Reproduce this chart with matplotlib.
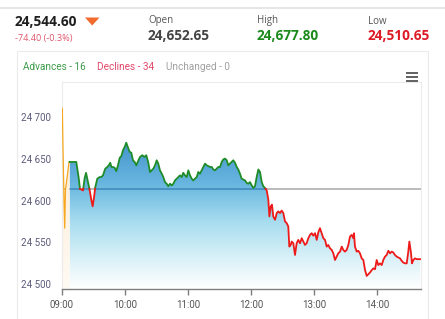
import numpy as np
import matplotlib
matplotlib.use("Agg")
import matplotlib.pyplot as plt
from matplotlib.colors import LinearSegmentedColormap
from matplotlib.patches import Polygon, Rectangle
from matplotlib.lines import Line2D

# ── Data ──────────────────────────────────────────────────────────────────────
last_price = "24,544.60"
change_txt = "-74.40 (-0.3%)"
open_txt = "24,652.65"
high_txt = "24,677.80"
low_txt = "24,510.65"
advances, declines, unchanged = 16, 34, 0
prev_close = 24614

# pre-open session, minutes after 09:00
pre_minutes = [0.3, 1.0, 1.9, 2.6, 3.3, 4.8, 6.7, 7.3]
pre_prices = [24710, 24660, 24601, 24567, 24613, 24627, 24646, 24646]

# regular session, minutes after 09:00
minutes = [
    7.3, 13.6, 15.9, 17.1, 20.0, 21.6, 22.9, 24.8, 26.4, 27.9, 29.2, 30.5,
    31.7, 33.6, 35.9, 37.4, 39.0, 41.2, 43.1, 44.5, 46.0, 47.0, 48.6, 50.2,
    51.7, 53.3, 55.0, 56.5, 58.1, 59.7, 61.2, 62.9, 64.5, 66.0, 67.6, 69.2,
    70.8, 72.1, 74.3, 76.5, 78.4, 80.3, 82.2, 83.8, 85.4, 87.0, 88.6, 90.2,
    91.7, 93.3, 95.0, 96.5, 98.1, 99.7, 101.2, 102.9, 104.5, 106.0, 107.6,
    109.2, 110.8, 112.4, 114.0, 115.5, 117.1, 118.8, 120.3, 121.9, 123.5,
    125.0, 126.7, 128.3, 129.8, 131.4, 133.0, 134.6, 136.2, 137.8, 139.3,
    141.0, 142.6, 144.1, 145.7, 147.3, 148.9, 150.5, 152.1, 153.6, 155.2,
    156.9, 158.4, 160.0, 161.6, 163.1, 164.8, 166.4, 167.9, 169.5, 171.1,
    172.7, 174.3, 175.9, 177.4, 179.0, 180.7, 182.2, 183.8, 185.4, 187.0,
    188.6, 190.2, 191.7, 193.3, 195.0, 196.5, 197.5, 198.8, 200.0, 201.2,
    202.9, 204.5, 206.0, 207.6, 209.2, 210.8, 212.4, 214.0, 215.5, 216.5,
    217.8, 218.8, 220.3, 221.9, 223.5, 225.0, 226.7, 228.3, 229.8, 231.4,
    233.0, 234.6, 236.2, 237.8, 239.3, 241.0, 242.6, 244.1, 245.7, 247.3,
    248.9, 250.5, 252.1, 253.6, 255.2, 256.9, 258.4, 260.0, 261.6, 263.1,
    264.8, 266.4, 267.9, 269.5, 271.1, 272.7, 274.3, 275.9, 277.4, 278.1,
    279.0, 280.7, 282.2, 283.8, 285.4, 287.0, 288.6, 290.2, 291.7, 293.3,
    295.0, 296.5, 298.1, 299.7, 301.2, 302.9, 304.5, 306.0, 307.6, 309.2,
    310.8, 312.4, 314.0, 315.5, 317.1, 318.8, 320.3, 321.9, 323.5, 325.0,
    326.7, 328.3, 329.8, 330.8, 332.2, 333.3, 334.6, 336.2, 337.8, 339.3,
    341.0,
]
prices = [
    24646, 24646, 24627, 24614, 24612, 24627, 24633, 24622, 24612, 24601, 24593, 24604,
    24616, 24626, 24628, 24628, 24630, 24638, 24640, 24642, 24645, 24640, 24640, 24639,
    24635, 24642, 24651, 24653, 24660, 24664, 24669, 24663, 24658, 24657, 24648, 24646,
    24642, 24646, 24652, 24654, 24652, 24654, 24645, 24634, 24636, 24638, 24642, 24648,
    24644, 24636, 24632, 24628, 24622, 24620, 24617, 24620, 24618, 24620, 24624,
    24626, 24628, 24630, 24628, 24633, 24630, 24628, 24636, 24630, 24626,
    24624, 24626, 24628, 24634, 24632, 24636, 24640, 24644, 24642, 24641,
    24640, 24640, 24637, 24636, 24638, 24640, 24640, 24646, 24649, 24650,
    24648, 24642, 24644, 24646, 24648, 24645, 24640, 24637, 24632, 24626,
    24625, 24624, 24621, 24620, 24622, 24618, 24615, 24617, 24628, 24637,
    24634, 24622, 24617, 24615, 24612, 24601, 24581, 24593, 24595, 24581,
    24577, 24585, 24587, 24585, 24588, 24585, 24575, 24573, 24569, 24545,
    24547, 24551, 24549, 24535, 24549, 24553, 24549, 24555, 24551, 24547,
    24549, 24555, 24559, 24561, 24558, 24561, 24553, 24562, 24567, 24561,
    24555, 24553, 24545, 24547, 24543, 24541, 24537, 24529, 24533, 24537,
    24539, 24545, 24541, 24539, 24541, 24547, 24557, 24559, 24555, 24561,
    24545, 24539, 24540, 24537, 24531, 24529, 24517, 24510, 24512, 24514,
    24517, 24519, 24518, 24529, 24523, 24525, 24523, 24529, 24533, 24535,
    24540, 24537, 24539, 24538, 24535, 24533, 24532, 24531, 24528, 24526,
    24525, 24525, 24539, 24551, 24539, 24525, 24529, 24531, 24530, 24530,
    24530,
]

x_ticks = [0, 60, 120, 180, 240, 300]
x_labels = ["09:00", "10:00", "11:00", "12:00", "13:00", "14:00"]
y_ticks = [24500, 24550, 24600, 24650, 24700]

# ── Figure helpers ────────────────────────────────────────────────────────────
W, H = 445, 319
X_MAX = 341.9
Y_MIN, Y_MAX = 24494.4, 24741.4

C_GREEN = "#1e8c28"
C_RED = "#ee1a1a"

fig = plt.figure(figsize=(W / 100, H / 100), dpi=100, facecolor="white")


def fx(px):
    return px / W


def fy(py):
    return 1 - py / H


def ftext(px, py, s, **kw):
    kw.setdefault("va", "center")
    kw.setdefault("ha", "left")
    fig.text(fx(px), fy(py), s, **kw)


# top shadow + card border
fig.add_artist(Line2D([0, 1], [fy(8), fy(8)], color="#e2e2e2", lw=1.2))
fig.add_artist(Rectangle((fx(17), fy(330)), fx(428) - fx(17), fy(51) - fy(330),
                         transform=fig.transFigure, facecolor="none",
                         edgecolor="#ebebeb", lw=0.8))

# ── Header ────────────────────────────────────────────────────────────────────
HF = ["Open Sans", "DejaVu Sans"]
ftext(15, 22, last_price, fontsize=9.8, fontweight="bold", color="#1e1e1e", family=HF)
fig.add_artist(Polygon([(fx(85), fy(17.5)), (fx(99.5), fy(17.5)), (fx(92.2), fy(25.5))],
                       closed=True, transform=fig.transFigure,
                       facecolor="#f26a2e", edgecolor="none"))
ftext(15, 38, change_txt, fontsize=6.6, color="#e0566b", family=HF)

for px, label, value, col in [(148, "Open", open_txt, "#444444"),
                              (257, "High", high_txt, "#1a8a1a"),
                              (368, "Low", low_txt, "#dd1a25")]:
    ftext(px, 21, label, fontsize=7, color="#555555", family=HF)
    ftext(px, 36, value, fontsize=9.8, fontweight="bold", color=col, family=HF)

# legend texts
LF = ["Roboto", "DejaVu Sans"]
ftext(23, 67, f"Advances - {advances}", fontsize=7.2, color="#3c9a48", family=LF)
ftext(97, 67, f"Declines - {declines}", fontsize=7.2, color="#e2486a", family=LF)
ftext(166, 67, f"Unchanged - {unchanged}", fontsize=7.2, color="#a0a0a0", family=LF)

# menu icon
for py in (72.8, 76.8, 80.8):
    fig.add_artist(Line2D([fx(405.5), fx(417.5)], [fy(py), fy(py)],
                          color="#555555", lw=1.3, solid_capstyle="butt"))

# ── Chart ─────────────────────────────────────────────────────────────────────
ax = fig.add_axes([fx(62), fy(289), fx(421) - fx(62), fy(82) - fy(289)])
ax.set_xlim(0, X_MAX)
ax.set_ylim(Y_MIN, Y_MAX)
ax.set_facecolor("white")

xs = np.array(minutes)
ys = np.array(prices, dtype=float)

# gradient fill clipped under the price line
cmap = LinearSegmentedColormap.from_list(
    "fill", [(0.0, "#ffffff"), (0.15, "#d9f1f8"), (0.33, "#a6dcef"),
             (0.5, "#6ab8e0"), (0.7, "#4696cd"), (1.0, "#2f78b8")])
grad = np.linspace(0, 1, 256).reshape(-1, 1)
im = ax.imshow(grad, extent=[0, X_MAX, Y_MIN, Y_MAX], origin="lower",
               aspect="auto", cmap=cmap, zorder=1)
verts = [(xs[0], Y_MIN)] + list(zip(xs, ys)) + [(xs[-1], Y_MIN)]
clip = Polygon(verts, closed=True, transform=ax.transData,
               facecolor="none", edgecolor="none")
ax.add_patch(clip)
im.set_clip_path(clip)

# previous close line (gray outside, blue inside the fill)
ax.axhline(prev_close, color="#a8a8a8", lw=1.1, zorder=0.5)
inner = ax.axhline(prev_close, color="#3f86b8", lw=1.1, zorder=2)
inner.set_clip_path(clip)

# pre-open band, fading downwards
ocmap = LinearSegmentedColormap.from_list("pre", ["#fffaf3", "#fde6c6"])
oim = ax.imshow(grad, extent=[0, X_MAX, Y_MIN, Y_MAX], origin="lower",
                aspect="auto", cmap=ocmap, zorder=1)
pverts = [(pre_minutes[0], Y_MIN)] + list(zip(pre_minutes, pre_prices)) + \
         [(pre_minutes[-1], Y_MIN)]
pclip = Polygon(pverts, closed=True, transform=ax.transData,
                facecolor="none", edgecolor="none")
ax.add_patch(pclip)
oim.set_clip_path(pclip)
ax.plot(pre_minutes, pre_prices, color="#f6a821", lw=0.9, zorder=3)

# split line at the previous close
px_, py_ = [xs[0]], [ys[0]]
for i in range(1, len(xs)):
    y0, y1 = ys[i - 1], ys[i]
    if (y0 - prev_close) * (y1 - prev_close) < 0:
        t = (prev_close - y0) / (y1 - y0)
        px_.append(xs[i - 1] + t * (xs[i] - xs[i - 1]))
        py_.append(prev_close)
    px_.append(xs[i])
    py_.append(y1)
px_, py_ = np.array(px_), np.array(py_)
up = np.where(py_ >= prev_close, py_, np.nan)
dn = np.where(py_ <= prev_close, py_, np.nan)
ax.plot(px_, up, color=C_GREEN, lw=1.3, zorder=3, solid_joinstyle="round")
ax.plot(px_, dn, color=C_RED, lw=1.3, zorder=3, solid_joinstyle="round")

# axes styling
for side in ("top", "left", "right"):
    ax.spines[side].set_color("#ececec")
    ax.spines[side].set_linewidth(0.8)
ax.spines["bottom"].set_color("#7f7f7f")
ax.spines["bottom"].set_linewidth(1.0)

ax.set_xticks(x_ticks)
ax.set_xticklabels(x_labels, family=LF)
ax.tick_params(axis="x", length=4.5, width=1.0, color="#7f7f7f", pad=3.5,
               labelsize=7, labelcolor="#555555")
ax.set_yticks(y_ticks)
ax.set_yticklabels([f"{v:,}".replace(",", " ") for v in y_ticks], family=LF)
ax.tick_params(axis="y", length=0, pad=8, labelsize=7, labelcolor="#5b5b7b")

fig.savefig("out.png", dpi=100, facecolor="white")
